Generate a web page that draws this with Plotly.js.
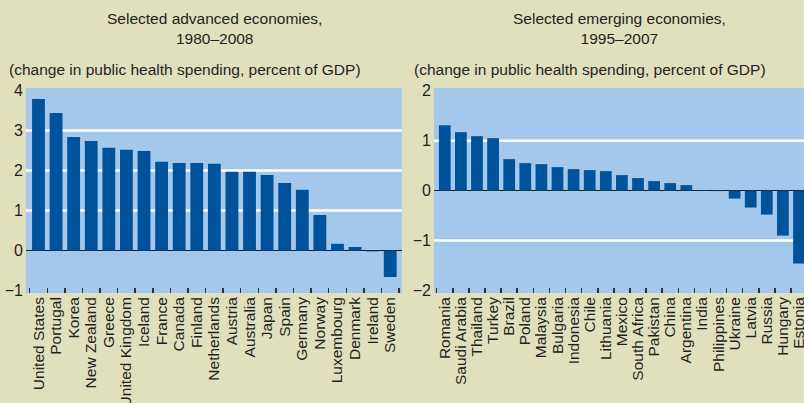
<!DOCTYPE html>
<html>
<head>
<meta charset="utf-8">
<script src="https://cdn.plot.ly/plotly-3.0.1.min.js"></script>
<style>
html,body{margin:0;padding:0;background:#E1E0BD;overflow:hidden;}
#chart{width:804px;height:403px;}
</style>
</head>
<body>
<div id="chart"></div>
<script>
// Advanced economies, 1980-2008
const advCountries = ["United States","Portugal","Korea","New Zealand","Greece","United Kingdom","Iceland","France","Canada","Finland","Netherlands","Austria","Australia","Japan","Spain","Germany","Norway","Luxembourg","Denmark","Ireland","Sweden"];
const advValues = [3.79,3.44,2.84,2.74,2.57,2.52,2.49,2.22,2.19,2.19,2.17,1.97,1.97,1.89,1.69,1.52,0.89,0.17,0.09,-0.02,-0.66];

// Emerging economies, 1995-2007
const emCountries = ["Romania","Saudi Arabia","Thailand","Turkey","Brazil","Poland","Malaysia","Bulgaria","Indonesia","Chile","Lithuania","Mexico","South Africa","Pakistan","China","Argentina","India","Philippines","Ukraine","Latvia","Russia","Hungary","Estonia"];
const emValues = [1.31,1.17,1.09,1.05,0.63,0.55,0.53,0.47,0.43,0.41,0.39,0.31,0.25,0.19,0.15,0.11,0.01,-0.01,-0.16,-0.34,-0.48,-0.90,-1.46];

const advTicks = [-1,0,1,2,3,4];
const emTicks = [-2,-1,0,1,2];
const advGrid = [1,2,3];
const emGrid = [-1,1];

const FONT = '"Liberation Sans Narrow","Arial Narrow","Liberation Sans",sans-serif';
const TXT = '#231F20';
const BAR = '#00529B';

const traces = [
  {type:'bar', x:advCountries, y:advValues, xaxis:'x', yaxis:'y', marker:{color:BAR}, hoverinfo:'none'},
  {type:'bar', x:emCountries, y:emValues, xaxis:'x2', yaxis:'y2', marker:{color:BAR}, hoverinfo:'none'}
];

const W = 804, H = 403;
const yDom = [(H-293)/H, (H-88)/H];

const shapes = [];
advGrid.forEach(v => shapes.push({type:'line', xref:'x domain', yref:'y', x0:0, x1:1, y0:v, y1:v, line:{color:'#FFFFFF', width:2.5}, layer:'below'}));
emGrid.forEach(v => shapes.push({type:'line', xref:'x2 domain', yref:'y2', x0:0, x1:1, y0:v, y1:v, line:{color:'#FFFFFF', width:2.5}, layer:'below'}));

const xCommon = {
  type:'category', tickmode:'linear', tick0:0, dtick:1, tickson:'boundaries',
  ticks:'inside', ticklen:5, tickwidth:1.5, tickcolor:'#333',
  tickangle:-90, showgrid:false, showline:false, zeroline:false, automargin:false,
  tickfont:{family:FONT, size:15.5, color:TXT}, fixedrange:true
};
const yCommon = {
  showgrid:false, zeroline:true, zerolinecolor:'#1a1a1a', zerolinewidth:1.5,
  ticks:'', showline:false, tickfont:{family:FONT, size:16, color:TXT}, automargin:false,
  ticklabelstandoff:2, fixedrange:true, layer:'above traces'
};

const layout = {
  width:W, height:H,
  margin:{l:0,r:0,t:0,b:0,pad:0},
  paper_bgcolor:'#E1E0BD',
  plot_bgcolor:'#A3C8EB',
  showlegend:false,
  bargap:0.27,
  font:{family:FONT, color:TXT},
  xaxis:Object.assign({}, xCommon, {domain:[26/W, 402/W], anchor:'y', range:[-0.71, 20.67]}),
  yaxis:Object.assign({}, yCommon, {domain:yDom, anchor:'x', range:[-1.06, 4.065], tickvals:advTicks}),
  xaxis2:Object.assign({}, xCommon, {domain:[434/W, 1], anchor:'y2', range:[-0.67, 22.31]}),
  yaxis2:Object.assign({}, yCommon, {domain:yDom, anchor:'x2', range:[-2.05, 2.054], tickvals:emTicks}),
  shapes:shapes,
  annotations:[
    {xref:'paper', yref:'paper', x:214.7/W, y:1-8/H, xanchor:'center', yanchor:'top', showarrow:false, align:'center',
     text:'Selected advanced economies,<br>1980–2008', font:{family:FONT, size:15.5, color:TXT}},
    {xref:'paper', yref:'paper', x:619.8/W, y:1-8/H, xanchor:'center', yanchor:'top', showarrow:false, align:'center',
     text:'Selected emerging economies,<br>1995–2007', font:{family:FONT, size:15.5, color:TXT}},
    {xref:'paper', yref:'paper', x:7/W, y:1-70/H, xanchor:'left', yanchor:'middle', showarrow:false,
     text:'(change in public health spending, percent of GDP)', font:{family:FONT, size:15.5, color:TXT}},
    {xref:'paper', yref:'paper', x:412/W, y:1-70/H, xanchor:'left', yanchor:'middle', showarrow:false,
     text:'(change in public health spending, percent of GDP)', font:{family:FONT, size:15.5, color:TXT}}
  ]
};

Plotly.newPlot('chart', traces, layout, {staticPlot:true, displayModeBar:false});
</script>
</body>
</html>
